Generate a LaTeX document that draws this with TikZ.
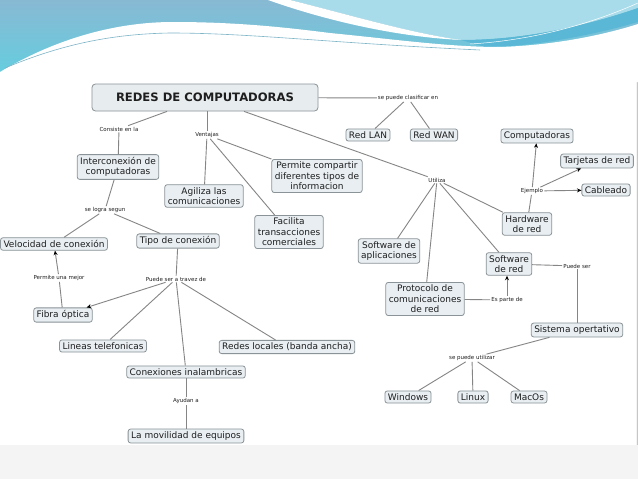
\documentclass[tikz,border=0pt]{standalone}
\usepackage{fontspec}
\setmainfont{DejaVu Sans}
\usetikzlibrary{arrows.meta}
\definecolor{nodefill}{HTML}{E8EEF2}
\definecolor{titlefill}{HTML}{E7ECEF}
\definecolor{nodeborder}{HTML}{8A9397}
\definecolor{linec}{HTML}{858585}
\definecolor{textc}{HTML}{1E1E1E}
\definecolor{hdrtop}{HTML}{88B9D3}
\definecolor{hdrbot}{HTML}{62CFE0}
\definecolor{cyanl}{HTML}{A9DCEA}
\definecolor{bandc}{HTML}{5AB8D6}
\definecolor{slidebg}{HTML}{F4F4F4}
\definecolor{wavel}{HTML}{7DB5C7}
\tikzset{
  concept/.style={draw=nodeborder, fill=nodefill, rounded corners=2.5pt, line width=0.8pt,
    inner xsep=3pt, inner ysep=2.6pt, align=center, font=\fontsize{9}{10.5}\selectfont, text=textc},
  linklabel/.style={inner sep=1pt, font=\fontsize{5.5}{6}\selectfont, text=textc},
  conn/.style={draw=linec, line width=0.9pt},
  arr/.style={conn, -{Stealth[length=4.5pt,width=4pt,color=black]}}
}
\begin{document}
\begin{tikzpicture}[x=1pt,y=-1pt]
\useasboundingbox (0,0) rectangle (638,479);
% slide background
\fill[slidebg] (0,0) rectangle (638,479);
\fill[white] (0,60) rectangle (636,445);
\draw[gray!45, line width=0.6pt] (637,82) -- (637,445);
% header wave
\shade[top color=hdrtop, bottom color=hdrbot] (0,0) rectangle (638,80);
\fill[cyanl] (290,0) -- (638,0) -- (638,8) .. controls (580,28) and (520,40) .. (461,40)
  .. controls (410,33) and (350,15) .. (290,0) -- cycle;
\fill[bandc] (461,40) .. controls (520,40) and (580,28) .. (638,8) -- (638,22)
  .. controls (590,36) and (530,47) .. (485,47) -- cycle;
\fill[white] (268,0) -- (290,0) .. controls (350,15) and (410,33) .. (461,40)
  .. controls (400,37) and (330,22) .. (268,0) -- cycle;
\fill[white] (0,72) .. controls (50,42) and (110,22) .. (173,22)
  .. controls (240,22) and (290,28) .. (330,33)
  .. controls (400,40) and (450,47) .. (500,47)
  .. controls (560,45) and (610,33) .. (638,24) -- (638,82) -- (0,82) -- cycle;
\draw[wavel, line width=0.6pt] (5,68) .. controls (60,45) and (110,34) .. (170,33)
  .. controls (250,33) and (330,43) .. (480,50);
\draw[white, line width=0.5pt] (470,44) .. controls (540,40) and (600,20) .. (638,3);

% nodes
\node[concept, fill=titlefill, minimum width=226pt, minimum height=27pt, rounded corners=3.5pt,
  font=\fontsize{11.6}{13}\selectfont\bfseries] (title) at (205,97.5) {REDES DE COMPUTADORAS};
\node[linklabel] (lclas) at (408,98) {se puede clasificar en};
\node[concept] (lan) at (368,135) {Red LAN};
\node[concept] (wan) at (434,135) {Red WAN};
\node[linklabel] (lcons) at (119,129) {Consiste en la};
\node[concept] (inter) at (118,167) {Interconexión de\\computadoras};
\node[linklabel] (lvent) at (207,135) {Ventajas};
\node[concept] (agil) at (204,196) {Agiliza las\\comunicaciones};
\node[concept] (fac) at (289,232) {Facilita\\transacciones\\comerciales};
\node[concept] (perm) at (317,176) {Permite compartir\\diferentes tipos de\\informacion};
\node[linklabel] (lutil) at (437,180) {Utiliza};
\node[concept] (hw) at (527,224) {Hardware\\de red};
\node[linklabel] (lej) at (532,191) {Ejemplo};
\node[concept] (comp) at (537,136) {Computadoras};
\node[concept] (tarj) at (597,161) {Tarjetas de red};
\node[concept] (cab) at (606,190) {Cableado};
\node[concept] (swapp) at (389,251) {Software de\\aplicaciones};
\node[concept] (swred) at (509,264) {Software\\de red};
\node[concept] (prot) at (425,299) {Protocolo de\\comunicaciones\\de red};
\node[linklabel] (lparte) at (507,300) {Es parte de};
\node[linklabel] (lpuede) at (577,266) {Puede ser};
\node[concept] (so) at (577,330) {Sistema opertativo};
\node[linklabel] (lutz) at (472,358) {se puede utilizar};
\node[concept] (win) at (408,397) {Windows};
\node[concept] (linux) at (473,397) {Linux};
\node[concept] (mac) at (529,397) {MacOs};
\node[linklabel] (llogra) at (105,210) {se logra segun};
\node[concept] (vel) at (54,244) {Velocidad de conexión};
\node[concept] (tipo) at (178,241) {Tipo de conexión};
\node[linklabel] (lperm) at (59,278) {Permite una mejor};
\node[linklabel] (lpuedet) at (176,279) {Puede ser a travez de};
\node[concept] (fibra) at (63,315) {Fibra óptica};
\node[concept] (lineas) at (103,346) {Lineas telefonicas};
\node[concept] (redes) at (287,347) {Redes locales (banda ancha)};
\node[concept] (conex) at (186,372) {Conexiones inalambricas};
\node[linklabel] (layud) at (186,401) {Ayudan a};
\node[concept] (mov) at (186,436) {La movilidad de equipos};

% connectors
\draw[conn] (title) -- (lclas);
\draw[conn] (lclas) -- (lan);
\draw[conn] (lclas) -- (wan);
\draw[conn] (title) -- (lcons);
\draw[conn] (lcons) -- (inter);
\draw[conn] (inter) -- (llogra);
\draw[conn] (llogra) -- (vel);
\draw[conn] (llogra) -- (tipo);
\draw[conn] (title.south -| lvent) -- (lvent);
\draw[conn] (lvent) -- (agil);
\draw[conn] (lvent) -- (fac);
\draw[conn] (lvent) -- (perm);
\draw[conn] (title) -- (lutil);
\draw[conn] (lutil) -- (hw);
\draw[conn] (lutil) -- (swapp);
\draw[conn] (lutil) -- (prot);
\draw[conn] (lutil) -- (swred);
\draw[conn] (hw) -- (lej);
\draw[arr] (lej) -- (comp);
\draw[arr] (lej) -- (tarj);
\draw[arr] (lej) -- (cab);
\draw[conn] (prot) -- (lparte);
\draw[arr] (lparte) -- (lparte |- swred.south);
\draw[conn] (swred) -- (lpuede);
\draw[conn] (lpuede) -- (so);
\draw[conn] (so) -- (lutz);
\draw[conn] (lutz) -- (win);
\draw[conn] (lutz) -- (linux);
\draw[conn] (lutz) -- (mac);
\draw[conn] (tipo) -- (lpuedet);
\draw[arr] (lpuedet) -- (fibra);
\draw[conn] (lpuedet) -- (lineas);
\draw[conn] (lpuedet) -- (redes);
\draw[conn] (lpuedet) -- (conex);
\draw[conn] (fibra) -- (lperm);
\draw[arr] (lperm) -- (vel);
\draw[conn] (conex) -- (layud);
\draw[conn] (layud) -- (mov);
\end{tikzpicture}
\end{document}
